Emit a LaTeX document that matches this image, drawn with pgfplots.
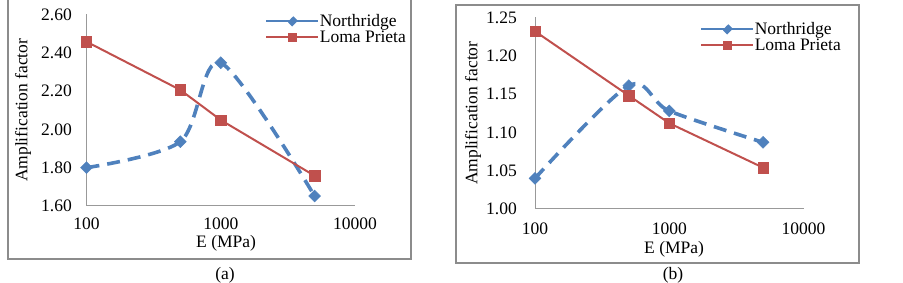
\documentclass[border=0pt]{standalone}
\usepackage{fontspec}
\setmainfont{Liberation Serif}
\usepackage{pgfplots}
\pgfplotsset{compat=1.18}
\definecolor{nblue}{HTML}{4F81BD}
\definecolor{lred}{HTML}{C0504D}
\newcommand{\myfs}{\fontsize{17.5pt}{21pt}\selectfont}
\begin{document}
\begin{tikzpicture}
\useasboundingbox (0pt,0pt) rectangle (903pt,283pt);
\draw[black!45, line width=1.5pt] (8pt,24pt) rectangle (411pt,292pt);
\draw[black!45, line width=1.5pt] (456pt,20pt) rectangle (859pt,278pt);
\node[font=\myfs] at (225pt,8pt) {(a)};
\node[font=\myfs] at (673pt,8pt) {(b)};

\begin{axis}[at={(86.5pt,77pt)}, anchor=south west,
  scale only axis, width=268.5pt, height=191.5pt,
  xmode=log, xmin=100, xmax=10000,
  ymin=1.6, ymax=2.6,
  axis lines=left,
  axis line style={-, draw=black!40, line width=1pt},
  xtick={100,1000,10000}, xticklabels={100,1000,10000},
  ytick={1.6,1.8,2.0,2.2,2.4,2.6}, yticklabels={1.60,1.80,2.00,2.20,2.40,2.60},
  major tick length=0pt, minor tick length=0pt,
  font=\myfs, tick label style={font=\myfs}, label style={font=\myfs},
  clip=false,
  xlabel={E (MPa)}, ylabel={Amplification factor},
  xticklabel style={anchor=center, inner sep=0pt, yshift=-17.5pt},
  yticklabel style={anchor=east, inner sep=0pt, xshift=-14.5pt},
  xlabel style={at={(axis description cs:0.52,-0.195)}, anchor=center},
  ylabel style={at={(axis description cs:-0.2365,0.5)}, anchor=center},
  legend style={draw=none, fill=none, anchor=north west, inner sep=0pt,
    row sep=1.5pt, font=\myfs, nodes={inner sep=0.8pt, anchor=west},
    at={(axis description cs:0.665,1.008)}},
  legend cell align=left,
]
\addplot[color=nblue, line width=3.6pt, dash pattern=on 13pt off 8pt, smooth,
    mark=square*, mark size=4.2pt,
    mark options={solid, rotate=45, fill=nblue, draw=nblue, line width=0.5pt},
    legend image code/.code={\draw[color=nblue, solid, line width=1.8pt] (0pt,0pt) -- (52pt,0pt);
      \fill[nblue] (26pt,0pt) +(0pt,3.2pt) -- +(3.2pt,0pt) -- +(0pt,-3.2pt) -- +(-3.2pt,0pt) -- cycle;}]
  coordinates {(100,1.800) (500,1.936) (1000,2.348) (5000,1.652)};
\addlegendentry{Northridge}
\addplot[color=lred, line width=2pt,
    mark=square*, mark size=5.2pt,
    mark options={solid, fill=lred, draw=lred, line width=0.5pt},
    legend image code/.code={\draw[color=lred, solid, line width=1.8pt] (0pt,0pt) -- (52pt,0pt);
      \fill[lred] (22.4pt,-3.6pt) rectangle (29.6pt,3.6pt);}]
  coordinates {(100,2.458) (500,2.206) (1000,2.049) (5000,1.758)};
\addlegendentry{Loma Prieta}
\end{axis}

\begin{axis}[at={(535pt,74pt)}, anchor=south west,
  scale only axis, width=268.5pt, height=191.5pt,
  xmode=log, xmin=100, xmax=10000,
  ymin=1.0, ymax=1.25,
  axis lines=left,
  axis line style={-, draw=black!40, line width=1pt},
  xtick={100,1000,10000}, xticklabels={100,1000,10000},
  ytick={1.0,1.05,1.1,1.15,1.2,1.25}, yticklabels={1.00,1.05,1.10,1.15,1.20,1.25},
  major tick length=0pt, minor tick length=0pt,
  font=\myfs, tick label style={font=\myfs}, label style={font=\myfs},
  clip=false,
  xlabel={E (MPa)}, ylabel={Amplification factor},
  xticklabel style={anchor=center, inner sep=0pt, yshift=-20pt},
  yticklabel style={anchor=east, inner sep=0pt, xshift=-18pt},
  xlabel style={at={(axis description cs:0.518,-0.209)}, anchor=center},
  ylabel style={at={(axis description cs:-0.231,0.5)}, anchor=center},
  legend style={draw=none, fill=none, anchor=north west, inner sep=0pt,
    row sep=1.5pt, font=\myfs, nodes={inner sep=0.8pt, anchor=west},
    at={(axis description cs:0.6145,0.982)}},
  legend cell align=left,
]
\addplot[color=nblue, line width=3.6pt, dash pattern=on 13pt off 8pt, smooth,
    mark=square*, mark size=4.2pt,
    mark options={solid, rotate=45, fill=nblue, draw=nblue, line width=0.5pt},
    legend image code/.code={\draw[color=nblue, solid, line width=1.8pt] (0pt,0pt) -- (52pt,0pt);
      \fill[nblue] (26pt,0pt) +(0pt,3.2pt) -- +(3.2pt,0pt) -- +(0pt,-3.2pt) -- +(-3.2pt,0pt) -- cycle;}]
  coordinates {(100,1.040) (500,1.161) (1000,1.128) (5000,1.087)};
\addlegendentry{Northridge}
\addplot[color=lred, line width=2pt,
    mark=square*, mark size=5.2pt,
    mark options={solid, fill=lred, draw=lred, line width=0.5pt},
    legend image code/.code={\draw[color=lred, solid, line width=1.8pt] (0pt,0pt) -- (52pt,0pt);
      \fill[lred] (22.4pt,-3.6pt) rectangle (29.6pt,3.6pt);}]
  coordinates {(100,1.232) (500,1.148) (1000,1.112) (5000,1.054)};
\addlegendentry{Loma Prieta}
\end{axis}
\end{tikzpicture}
\end{document}
